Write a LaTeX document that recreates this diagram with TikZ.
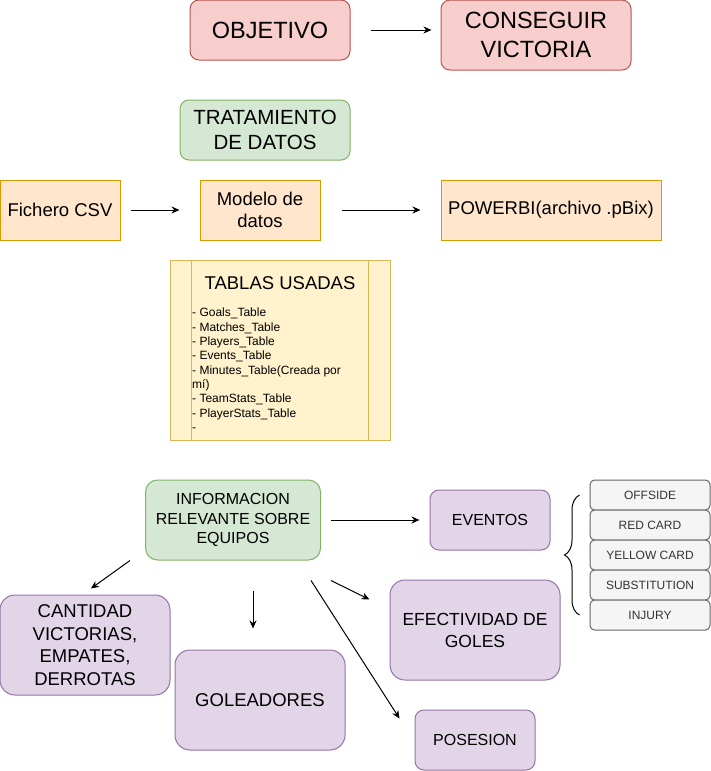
\documentclass[tikz,border=0pt]{standalone}
\usepackage{fontspec}
\setmainfont{Liberation Sans}
\usetikzlibrary{arrows.meta,decorations.pathreplacing}
\definecolor{redfill}{HTML}{F8CECC}
\definecolor{redline}{HTML}{B85450}
\definecolor{greenfill}{HTML}{D5E8D4}
\definecolor{greenline}{HTML}{82B366}
\definecolor{orangefill}{HTML}{FFE6CC}
\definecolor{orangeline}{HTML}{D79B00}
\definecolor{yellowfill}{HTML}{FFF2CC}
\definecolor{yellowline}{HTML}{D6B656}
\definecolor{purplefill}{HTML}{E1D5E7}
\definecolor{purpleline}{HTML}{9673A6}
\definecolor{greyfill}{HTML}{F5F5F5}
\definecolor{greyline}{HTML}{666666}
\definecolor{greytext}{HTML}{333333}
\begin{document}
\begin{tikzpicture}[x = 1pt,
	y = -1pt,
	box/.style = {draw, line width=1pt, align=center, inner sep=2pt},
	redbox/.style = {box, fill=redfill, draw=redline, rounded corners=9pt},
	greenbox/.style = {box, fill=greenfill, draw=greenline, rounded corners=9pt},
	orangebox/.style = {box, fill=orangefill, draw=orangeline, minimum height=60pt},
	yellowbox/.style = {box, fill=yellowfill, draw=yellowline},
	purplebox/.style = {box, fill=purplefill, draw=purpleline, rounded corners=12pt},
	greybox/.style = {box, fill=greyfill, draw=greyline, text=greytext, rounded corners=4.5pt,
		minimum width=120pt, minimum height=30pt, font=\fontsize{12}{14.4}\selectfont},
	arr/.style = {-{Stealth[length=8pt,width=7pt]}, line width=1pt},
	fbig/.style = {font=\fontsize{23.5}{28.5}\selectfont},
	fmid/.style = {font=\fontsize{18.5}{22.5}\selectfont},
	fsmall/.style = {font=\fontsize{16}{19.2}\selectfont}]
	\useasboundingbox (0,0) rectangle (711,771);
	
	\node[redbox, fbig, minimum width=160pt, minimum height=60pt] (obj) at (270,30) {OBJETIVO};
	\node[redbox, fbig, minimum width=190pt, minimum height=70pt] (cons) at (536,35) {CONSEGUIR\\VICTORIA};
	\draw[arr] ([xshift=20pt]obj.east) -- ([xshift=-9pt]obj.east -| cons.west);
	
	\node[greenbox, font=\fontsize{20.5}{25}\selectfont, minimum width=170pt, minimum height=60pt] (trat) at (265,130) {TRATAMIENTO\\DE DATOS};
	
	\node[orangebox, fmid, minimum width=120pt] (csv) at (60,210) {Fichero CSV};
	\node[orangebox, fmid, minimum width=120pt] (modelo) at (260,210) {Modelo de\\datos};
	\node[orangebox, fmid, minimum width=220pt] (pbi) at (551,210) {POWERBI(archivo .pBix)};
	\draw[arr] ([xshift=10pt]csv.east) -- ([xshift=-20pt]modelo.west);
	\draw[arr] ([xshift=21pt]modelo.east) -- ([xshift=-20pt]pbi.west);
	
	\node[yellowbox, minimum width=220pt, minimum height=180pt] (tablas) at (280,350) {};
	\draw[yellowline, line width=1pt] ([xshift=22pt]tablas.north west) -- ([xshift=22pt]tablas.south west);
	\draw[yellowline, line width=1pt] ([xshift=-22pt]tablas.north east) -- ([xshift=-22pt]tablas.south east);
	\node[fmid] (tabtitle) at ([yshift=-24pt]tablas.north) {TABLAS USADAS};
	\node[anchor=north west, align=left, inner sep=0pt, font=\fontsize{12}{14.3}\selectfont] (tablist) at (192,308)
	{- Goals\_Table\\- Matches\_Table\\- Players\_Table\\- Events\_Table\\- Minutes\_Table(Creada por\\mí)\\- TeamStats\_Table\\- PlayerStats\_Table\\-};
	
	\node[greenbox, fsmall, rounded corners=12pt, minimum width=175pt, minimum height=80pt] (info) at (233,520) {INFORMACION\\RELEVANTE SOBRE\\EQUIPOS};
	\node[purplebox, fsmall, rounded corners=9pt, minimum width=120pt, minimum height=60pt] (eventos) at (490,520) {EVENTOS};
	\node[purplebox, fmid, rounded corners=15pt, minimum width=170pt, minimum height=100pt] (cant) at (85,645) {CANTIDAD\\VICTORIAS,\\EMPATES,\\DERROTAS};
	\node[purplebox, fmid, rounded corners=15pt, minimum width=170pt, minimum height=100pt] (gol) at (260,700) {GOLEADORES};
	\node[purplebox, font=\fontsize{17.5}{22}\selectfont, rounded corners=15pt, minimum width=170pt, minimum height=100pt] (efect) at (475,630) {EFECTIVIDAD DE\\GOLES};
	\node[purplebox, fsmall, rounded corners=9pt, minimum width=120pt, minimum height=60pt] (pos) at (475,740) {POSESION};
	
	\draw[arr] ([xshift=10pt]info.east) -- ([xshift=-10pt]eventos.west);
	\draw[arr] ([xshift=-15pt]info.south west) -- ([xshift=6pt,yshift=6pt]cant.north);
	\draw[arr] ([xshift=20pt,yshift=-30pt]info.south) -- ([xshift=-7pt,yshift=21pt]gol.north);
	\draw[arr] ([xshift=10pt,yshift=-20pt]info.south east) -- ([xshift=-20pt,yshift=-20pt]efect.north west);
	\draw[arr] ([xshift=-10pt,yshift=-20pt]info.south east) -- ([xshift=-15pt,yshift=-9pt]pos.north west);
	
	\node[greybox] (offside) at (650,495) {OFFSIDE};
	\node[greybox] (red) at (650,525) {RED CARD};
	\node[greybox] (yellow) at (650,555) {YELLOW CARD};
	\node[greybox] (subst) at (650,585) {SUBSTITUTION};
	\node[greybox] (injury) at (650,615) {INJURY};
	\draw[decorate, decoration={brace, amplitude=15pt}, line width=1pt] ([xshift=-10pt]injury.west) -- ([xshift=-10pt]offside.west);
\end{tikzpicture}
\end{document}
